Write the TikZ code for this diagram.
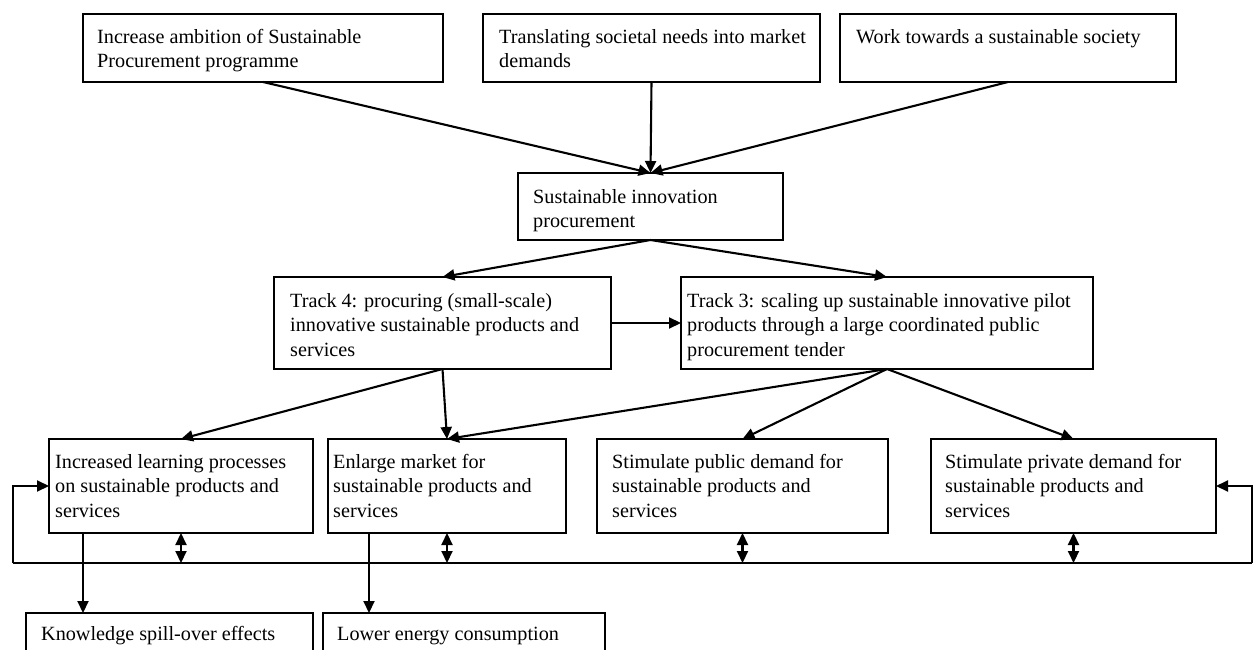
\documentclass[tikz,border=0pt]{standalone}
\usepackage{fontspec}
\setmainfont{Liberation Serif}
\usetikzlibrary{arrows.meta,calc}
\newcommand\firstline{\rule{0pt}{16pt}}
\begin{document}
\begin{tikzpicture}[x=1pt,y=-1pt,
  box/.style={draw,line width=1.6pt,rectangle,inner sep=0pt,outer sep=0pt,anchor=north west},
  txt/.style={inner sep=0pt,anchor=north west,align=left,font=\fontsize{20.2}{24.5}\selectfont},
  conn/.style={line width=2.1pt},
  tip/.tip={Triangle[length=12pt,width=11pt]},
  arr/.style={conn,-tip},
  dbl/.style={conn,tip-tip}]
\path[use as bounding box,fill=white] (0,0) rectangle (1256,650);
\clip (0,0) rectangle (1256,650);

% top row of aims
\node[box,minimum width=360pt,minimum height=68pt] (b1) at (83,14) {};
\node[txt] (b1t) at (97,27) {\firstline Increase ambition of Sustainable\\Procurement programme};
\node[box,minimum width=337pt,minimum height=68pt] (b2) at (483,14) {};
\node[txt] (b2t) at (499,27) {\firstline Translating societal needs into market\\demands};
\node[box,minimum width=336pt,minimum height=68pt] (b3) at (840,14) {};
\node[txt] (b3t) at (856,27) {\firstline Work towards a sustainable society};

% central instrument
\node[box,minimum width=265pt,minimum height=67pt] (mid) at (518,173) {};
\node[txt] (midt) at (533,187) {\firstline Sustainable innovation\\procurement};

% the two tracks
\node[box,minimum width=337pt,minimum height=92pt] (t4) at (274,277) {};
\node[txt] (t4t) at (290,291) {\firstline Track 4: procuring (small-scale)\\innovative sustainable products and\\services};
\node[box,minimum width=412pt,minimum height=92pt] (t3) at (681,277) {};
\node[txt] (t3t) at (687,291) {\firstline Track 3: scaling up sustainable innovative pilot\\products through a large coordinated public\\procurement tender};

% effects
\node[box,minimum width=264pt,minimum height=94pt] (r1) at (49,439) {};
\node[txt] (r1t) at (55,452) {\firstline Increased learning processes\\on sustainable products and\\services};
\node[box,minimum width=238pt,minimum height=94pt] (r2) at (328,439) {};
\node[txt] (r2t) at (333,452) {\firstline Enlarge market for\\sustainable products and\\services};
\node[box,minimum width=291pt,minimum height=94pt] (r3) at (597,439) {};
\node[txt] (r3t) at (612,452) {\firstline Stimulate public demand for\\sustainable products and\\services};
\node[box,minimum width=285pt,minimum height=94pt] (r4) at (931,439) {};
\node[txt] (r4t) at (945,452) {\firstline Stimulate private demand for\\sustainable products and\\services};

% outcomes
\node[box,minimum width=287pt,minimum height=60pt] (k1) at (26,613) {};
\node[txt] (k1t) at (41,624) {\firstline Knowledge spill-over effects};
\node[box,minimum width=282pt,minimum height=60pt] (k2) at (323,613) {};
\node[txt] (k2t) at (337,624) {\firstline Lower energy consumption};

% aims into the instrument
\draw[arr] (b1.south) -- (mid.north);
\draw[arr] (b2.south) -- (mid.north);
\draw[arr] (b3.south) -- (mid.north);

% instrument into the tracks
\draw[arr] (mid.south) -- (t4.north);
\draw[arr] (mid.south) -- (t3.north);
\draw[arr] (t4.east) -- (t3.west);

% tracks into the effects
\draw[arr] (t4.south) -- (r1.north);
\draw[arr] (t4.south) -- (r2.north);
\draw[arr] (t3.south) -- (r2.north);
\draw[arr] (t3.south) -- (r3.north);
\draw[arr] (t3.south) -- (r4.north);

% effects into outcomes
\draw[arr] ([xshift=34pt]r1.south west) -- ([xshift=34pt]r1.south west |- k1.north);
\draw[arr] ([xshift=41pt]r2.south west) -- ([xshift=41pt]r2.south west |- k2.north);

% feedback loop between the effects
\coordinate (loopL) at (13,563);
\coordinate (loopR) at (1252,563);
\draw[conn] (loopL) -- (loopR);
\draw[arr] (loopL) |- (r1.west);
\draw[arr] (loopR) |- (r4.east);
\draw[dbl] (r1.south) -- (r1.south |- loopL);
\draw[dbl] (r2.south) -- (r2.south |- loopL);
\draw[dbl] (r3.south) -- (r3.south |- loopL);
\draw[dbl] (r4.south) -- (r4.south |- loopL);
\end{tikzpicture}
\end{document}
